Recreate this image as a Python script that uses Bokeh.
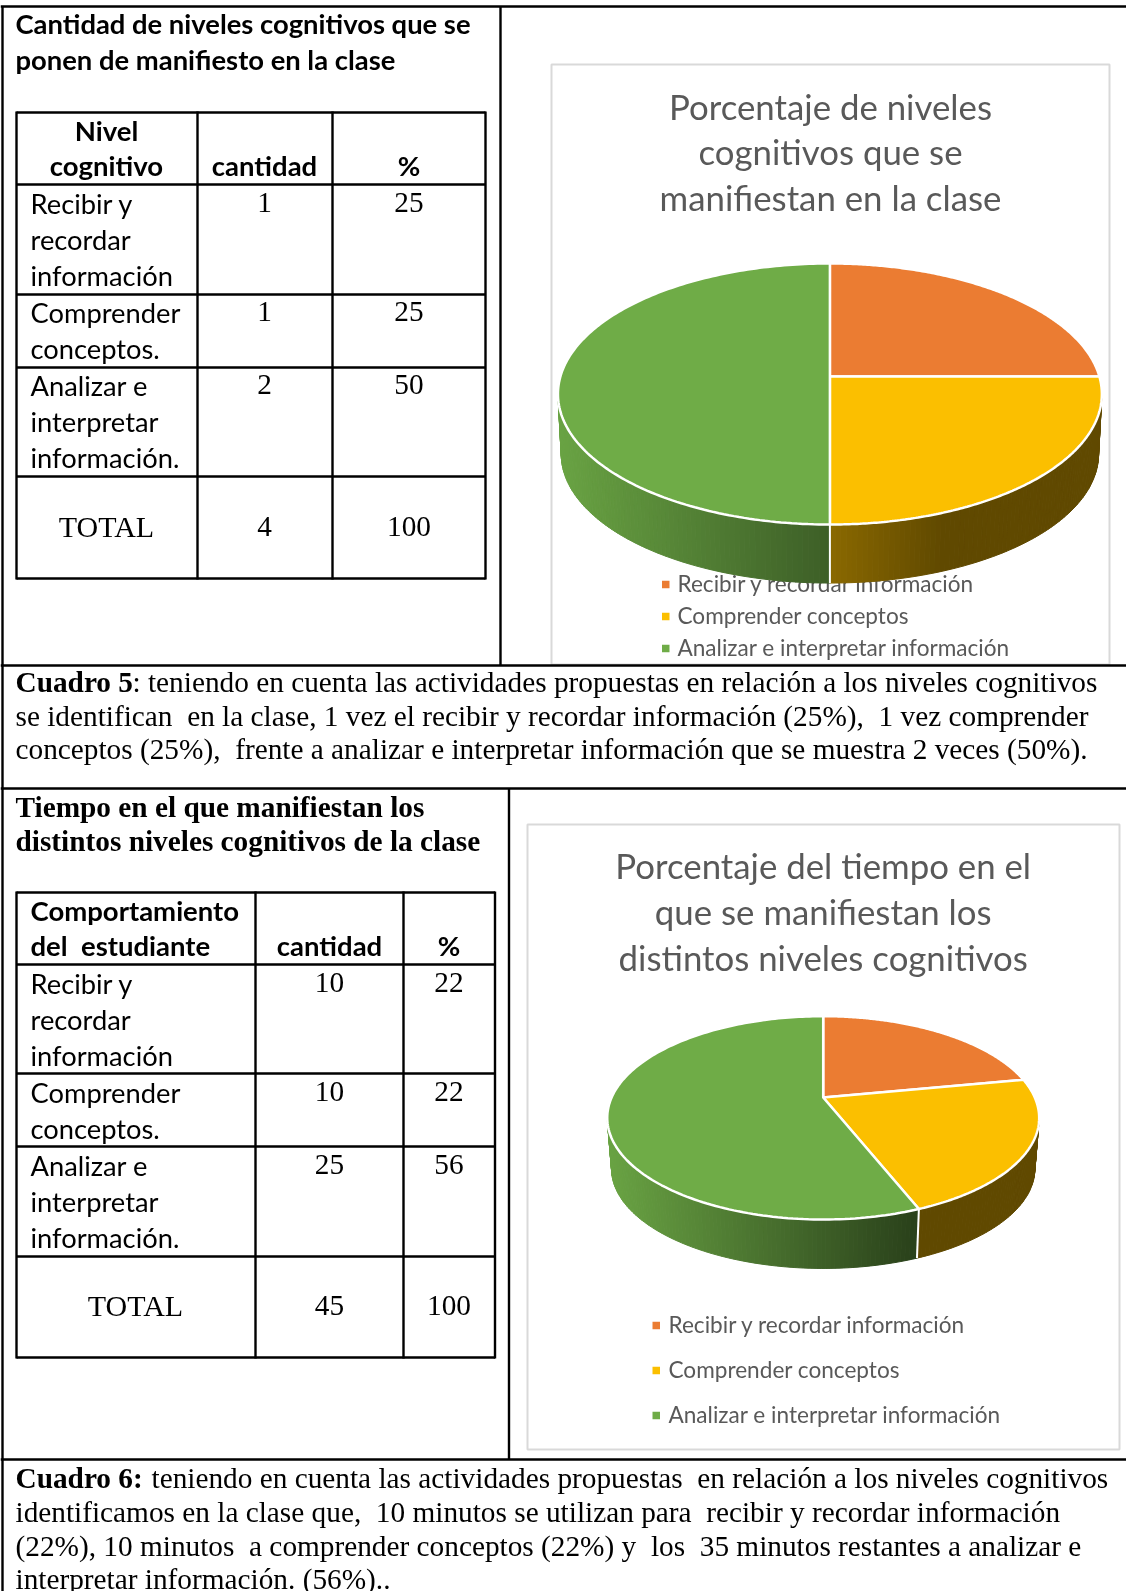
import math
import numpy as np
from bokeh.plotting import figure
from bokeh.core.properties import value
from bokeh.embed import file_html
from bokeh.resources import INLINE

# ---------- data ----------
legend_labels = ["Recibir y recordar información", "Comprender conceptos", "Analizar e interpretar información"]
slice_colors = ["#EB7C32", "#FBBF00", "#6FAC47"]

t1_title = ["Cantidad de niveles cognitivos que se", "ponen de manifiesto en la clase"]
t1_head = [["Nivel", "cognitivo"], "cantidad", "%"]
t1_labels = [["Recibir y", "recordar", "información"], ["Comprender", "conceptos."], ["Analizar e", "interpretar", "información."]]
t1_counts = [1, 1, 2]
t1_pct = [25, 25, 50]
t1_total = ["TOTAL", 4, 100]
chart1_title = ["Porcentaje de niveles", "cognitivos que se", "manifiestan en la clase"]

t2_title = ["Tiempo en el que manifiestan los", "distintos niveles cognitivos de la clase"]
t2_head = [["Comportamiento", "del \u00a0estudiante"], "cantidad", "%"]
t2_labels = t1_labels
t2_counts = [10, 10, 25]
t2_pct = [22, 22, 56]
t2_total = ["TOTAL", 45, 100]
chart2_title = ["Porcentaje del tiempo en el", "que se manifiestan los", "distintos niveles cognitivos"]

par1_bold = "Cuadro 5"
par1 = [": teniendo en cuenta las actividades propuestas en relación a los niveles cognitivos",
        "se identifican \u00a0en la clase, 1 vez el recibir y recordar información (25%), \u00a01 vez comprender",
        "conceptos (25%), \u00a0frente a analizar e interpretar información que se muestra 2 veces (50%)."]
par2_bold = "Cuadro 6:"
par2 = ["teniendo en cuenta las actividades propuestas \u00a0en relación a los niveles cognitivos",
        "identificamos en la clase que, \u00a010 minutos se utilizan para \u00a0recibir y recordar información",
        "(22%), 10 minutos \u00a0a comprender conceptos (22%) y \u00a0los \u00a035 minutos restantes a analizar e",
        "interpretar información. (56%).."]

# ---------- page ----------
W, H = 1126, 1591
SANS = "Lato"
SERIF = "Liberation Serif"
GREY = "#595959"
p = figure(width=W, height=H, x_range=(0, W), y_range=(H, 0), output_backend="svg",
           toolbar_location=None, min_border=0, outline_line_color=None, background_fill_color="white")
p.axis.visible = False
p.grid.visible = False
p.styles = {"position": "fixed", "left": "0px", "top": "0px"}

BASE_SHIFT = 0.37  # the svg text sits this many em below the requested alphabetic position


def txt(x, y, s, size, font=SANS, color="black", align="left", style="normal"):
    p.text([x], [y - BASE_SHIFT * size], text=[str(s)], text_font=value(font), text_font_size=f"{size}px",
           text_color=color, text_align=align, text_baseline="alphabetic", text_font_style=style)


def line(xs, ys, color="black", width=2.4):
    p.line(xs, ys, line_color=color, line_width=width)


def chart_frame(x0, x1, y0, y1):
    p.quad(left=[x0], right=[x1], top=[y0], bottom=[y1], fill_color="white", line_color="#D9D9D9", line_width=2)


chart_frame(551, 1109, 64, 664)
chart_frame(527, 1119, 824, 1449)

# ---------- outer grid ----------
for y in (6, 665, 788, 1459):
    line([0, W], [y, y])
line([2, 2], [6, H])
line([500, 500], [6, 665])
line([508.5, 508.5], [788, 1459])


def table(left, v1, v2, right, rows_y, head, labels, counts, pct, total, head_x, base_y, c1, c2, tot_y, tot_x):
    for y in rows_y:
        line([left, right], [y, y])
    for x in (left, v1, v2, right):
        line([x, x], [rows_y[0] - 1, rows_y[-1] + 1])
    for i, s in enumerate(head[0]):
        txt(head_x[0], base_y[0] + 35 * i, s, HEAD_SIZE, style="bold", align=head_x[1])
    txt(c1, base_y[0] + 35, head[1], HEAD_SIZE, style="bold", align="center")
    txt(c2, base_y[0] + 35, head[2], HEAD_SIZE, style="bold", align="center")
    k = 0
    for r, lab in enumerate(labels):
        txt(c1, base_y[1][k], counts[r], NUM_SIZE, font=SERIF, align="center")
        txt(c2, base_y[1][k], pct[r], NUM_SIZE, font=SERIF, align="center")
        for s in lab:
            txt(left + 14, base_y[1][k], s, CELL_SIZE)
            k += 1
    txt(tot_x, tot_y, total[0], 30, font=SERIF, align="center")
    txt(c1, tot_y, total[1], NUM_SIZE, font=SERIF, align="center")
    txt(c2, tot_y, total[2], NUM_SIZE, font=SERIF, align="center")


HEAD_SIZE = 27.5
CELL_SIZE = 27.3
NUM_SIZE = 29.3
TITLE_SIZE = 27.4
CHART_TITLE = 34.8
LEGEND_SIZE = 22.6
BODY = 29.3

# ---------- table 1 ----------
txt(15, 33, t1_title[0], TITLE_SIZE, style="bold")
txt(15, 69, t1_title[1], TITLE_SIZE, style="bold")
table(16, 197, 332, 485, [112, 184, 294, 367, 476, 578], t1_head, t1_labels, t1_counts, t1_pct, t1_total,
      (106, "center"), (140, [213, 249, 285, 322, 358, 395, 431, 467]), 264, 408.5, 537, 106)

# ---------- table 2 ----------
txt(15, 817, t2_title[0], BODY, font=SERIF, style="bold")
txt(15, 851, t2_title[1], BODY, font=SERIF, style="bold")
table(16, 255, 403, 494.5, [892, 964, 1073, 1146, 1256, 1357], t2_head, t2_labels, t2_counts, t2_pct, t2_total,
      (30, "left"), (920, [993, 1029, 1065, 1102, 1138, 1175, 1211, 1247]), 329, 448.5, 1316, 135)

# ---------- paragraphs ----------
txt(15, 692, par1_bold, BODY, font=SERIF, style="bold")
txt(132, 692, par1[0], BODY, font=SERIF)
txt(15, 726, par1[1], BODY, font=SERIF)
txt(15, 759.5, par1[2], BODY, font=SERIF)
txt(15, 1488.5, par2_bold, BODY, font=SERIF, style="bold")
txt(151, 1488.5, par2[0], BODY, font=SERIF)
txt(15, 1522, par2[1], BODY, font=SERIF)
txt(15, 1556, par2[2], BODY, font=SERIF)
txt(15, 1589, par2[3], BODY, font=SERIF)


# ---------- pie charts ----------
def shade(hex_color, f):
    r, g, b = int(hex_color[1:3], 16), int(hex_color[3:5], 16), int(hex_color[5:7], 16)
    return "#%02x%02x%02x" % (int(r * f), int(g * f), int(b * f))


def pie(vals, cx, cy, a, b, k, s, cy2):
    total = sum(vals)
    edges = np.cumsum([0] + list(vals)) / total * 2 * math.pi

    def top(t):
        d = 1 + k * np.cos(t)
        return cx + a * np.sin(t) / d, cy - b * np.cos(t) / d

    def bot(t):
        d = 1 + k * np.cos(t)
        return cx + s * a * np.sin(t) / d, cy2 - s * b * np.cos(t) / d

    ts = math.acos(-k)
    half = a / math.sqrt(1 - k * k)
    xs, ys, cols = [], [], []
    for i in range(len(vals)):
        lo, hi = max(edges[i], ts), min(edges[i + 1], 2 * math.pi - ts)
        if hi <= lo:
            continue
        grid = np.linspace(lo, hi, max(2, int((hi - lo) / math.radians(1.0)) + 1))
        for t0, t1 in zip(grid[:-1], grid[1:]):
            xa, ya = top(t0)
            xb, yb = top(t1)
            xc, yc = bot(t1)
            xd, yd = bot(t0)
            frac = ((xa + xb) / 2 - (cx - half)) / (2 * half)
            xs.append([xa, xb, xc, xd])
            ys.append([ya, yb, yc, yd])
            cols.append(shade(slice_colors[i], max(0.385, 0.95 - 0.8 * frac)))
    p.patches(xs, ys, fill_color=cols, line_color=cols, line_width=1)
    for e in edges:
        if ts < e < 2 * math.pi - ts:
            xa, ya = top(e)
            xb, yb = bot(e)
            line([xa, xb], [ya, yb], color="white", width=2)
    for i in range(len(vals)):
        t = np.linspace(edges[i], edges[i + 1], 180)
        x, y = top(t)
        p.patch([cx] + list(x), [cy] + list(y), fill_color=slice_colors[i], line_color="white", line_width=2.5)


def legend(sq_x, text_x, ys):
    for y, lab, col in zip(ys, legend_labels, slice_colors):
        p.quad(left=[sq_x], right=[sq_x + 7.5], top=[y - 3.75], bottom=[y + 3.75], fill_color=col, line_color=None)
        txt(text_x, y + 7, lab, LEGEND_SIZE, color=GREY)


# chart 1
for y, s in zip((119, 164, 210), chart1_title):
    txt(830, y, s, CHART_TITLE, color=GREY, align="center")
legend(661.5, 677, (584, 616, 648))
pie(t1_pct, 829.4, 376, 269.5, 128.2, 0.134, 0.988, 436.3)

# chart 2
for y, s in zip((878, 924, 970), chart2_title):
    txt(822.7, y, s, CHART_TITLE, color=GREY, align="center")
legend(652, 668, (1325, 1370, 1415))
pie(t2_pct, 822.7, 1097, 211.6, 97.6, 0.2, 0.98, 1148.4)

open("out.html", "w").write(file_html(p, INLINE))
